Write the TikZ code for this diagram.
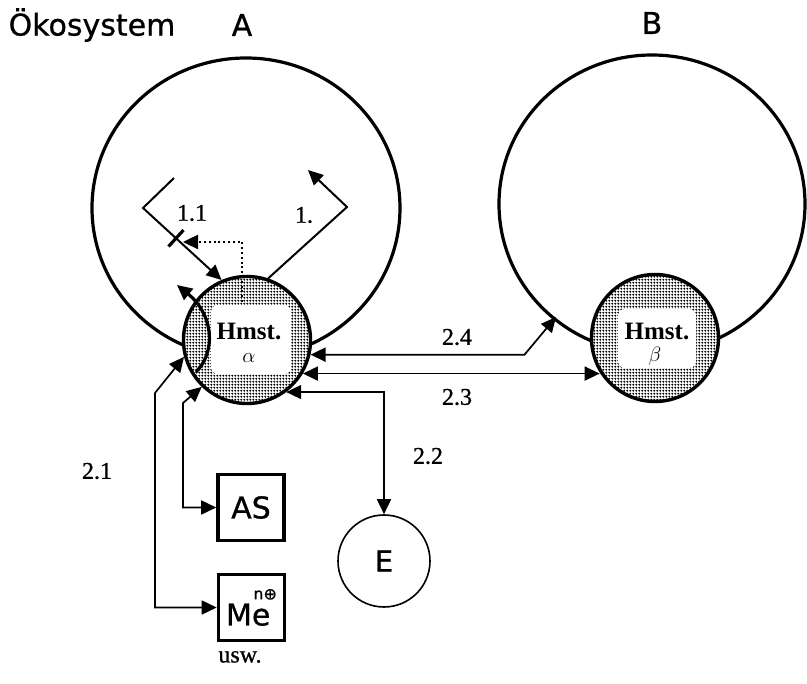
\documentclass[tikz,border=0pt]{standalone}
\usepackage{fontspec}
\setmainfont{Liberation Serif}
\newfontfamily\dv[FakeBold=0.8]{DejaVu Sans}
\newfontfamily\lab[FakeBold=0.8]{Liberation Serif}
\usetikzlibrary{arrows.meta,patterns.meta,calc}
\tikzdeclarepattern{
  name=stipple,
  type=uncolored,
  bounding box={(-1.6pt,-1.6pt) and (1.6pt,1.6pt)},
  tile size={(3.2pt,3.2pt)},
  code={\fill (0pt,0pt) circle (1.3pt);}
}
\begin{document}
\begin{tikzpicture}[x=1pt,y=-1pt,
  >={Triangle[length=15pt,width=14pt]},
  eco/.style={line width=3.2pt},
  hmst/.style={circle, draw, line width=3.4pt, minimum size=127pt, inner sep=0pt, preaction={fill=white}, pattern=stipple, pattern color=black},
  box/.style={draw, line width=3.6pt, minimum width=66pt, minimum height=66pt, inner sep=0pt, font=\dv\fontsize{30}{30}\selectfont},
  ecirc/.style={circle, draw, line width=1.6pt, minimum size=92pt, inner sep=0pt, font=\dv\fontsize{29}{29}\selectfont},
  conn/.style={line width=1.7pt, <->},
  thin1/.style={line width=2pt},
  lbl/.style={font=\lab\fontsize{24}{24}\selectfont, inner sep=0pt},
  hm/.style={font=\bfseries\fontsize{25}{25}\selectfont, inner sep=0pt},
  gr/.style={font=\fontsize{22}{22}\selectfont, inner sep=0pt},
  title/.style={font=\dv\fontsize{30}{30}\selectfont, inner sep=0pt}
]
\useasboundingbox (0,0) rectangle (807,684);
\fill[white] (0,0) rectangle (807,684);

% titles
\node[title] (tok) at (92,25) {Ökosystem};
\node[title] (tA) at (242,25) {A};
\node[title] (tB) at (652,23) {B};

% ecosystems A and B
\draw[eco] (246,208) ellipse [x radius=154pt, y radius=150pt];
\draw[eco] (652,204) ellipse [x radius=153pt, y radius=149pt];

% home states
\node[hmst] (alpha) at (247,340) {};
\fill[white, rounded corners=7pt] (211,305) rectangle (291,374);
\node[hm] (hA) at (249,331) {Hmst.};
\node[gr] (aA) at (249,358) {$\alpha$};

\node[hmst] (beta) at (655,338) {};
\fill[white, rounded corners=7pt] (618,309) rectangle (696,368);
\node[hm] (hB) at (657,331) {Hmst.};
\node[gr] (bB) at (655,356) {$\beta$};

% lens arrow out of alpha into A
\draw[line width=3.2pt, ->] (196,372) .. controls (216,352) and (214,315) .. (177,285);

% boxes
\node[box] (AS) at (251,507.5) {AS};
\node[box] (Me) at (251.5,607.5) {Me\hspace{-17pt}\raisebox{26pt}{\fontsize{16}{16}\selectfont n⊕}};
\node[ecirc] (E) at (384,561) {E};

% coordinates
\coordinate (Bin) at (556,317);
\coordinate (c1a) at (347,207);
\coordinate (c1b) at (308,170);
\coordinate (c11a) at (174,178);
\coordinate (c11b) at (143,208);
\coordinate (tk) at (176,238.3);
\coordinate (dotA) at (242,302);
\coordinate (dotB) at (242,242);
\coordinate (dotC) at (183,242);
\coordinate (k21) at (155,393);
\coordinate (k21b) at (183,403);

% connectors 2.x
\draw[conn] (alpha.-13) -- ++(214,0) -- (Bin);
\draw[conn] (alpha.-31) -- (beta.-148 |- alpha.-31);
\draw[conn] (alpha.-53) -- (alpha.-53 -| E.north) -- (E.north);
\draw[conn] (alpha.195) -- (k21) |- (Me.west);
\draw[conn] (alpha.226) -- (k21b) |- (AS.west);

% 1. and 1.1
\draw[thin1, ->] (alpha.71) -- (c1a) -- (c1b);
\draw[thin1, ->] (c11a) -- (c11b) -- (alpha.113);
\draw[line width=3.2pt] ($(tk)+(-7.5,8.2)$) -- ($(tk)+(7.5,-8.2)$);
\draw[line width=2.4pt, dash pattern=on 2pt off 2.8pt, ->] (dotA) -- (dotB) -- (dotC);

% labels
\node[lbl] (l11) at (192,213) {1.1};
\node[lbl] (l1) at (304,215) {1.};
\node[lbl] (l24) at (457,337) {2.4};
\node[lbl] (l23) at (457,397) {2.3};
\node[lbl] (l22) at (428,456) {2.2};
\node[lbl] (l21) at (97,471) {2.1};
\node[lbl] (lusw) at (240,657) {usw.};
\end{tikzpicture}
\end{document}
